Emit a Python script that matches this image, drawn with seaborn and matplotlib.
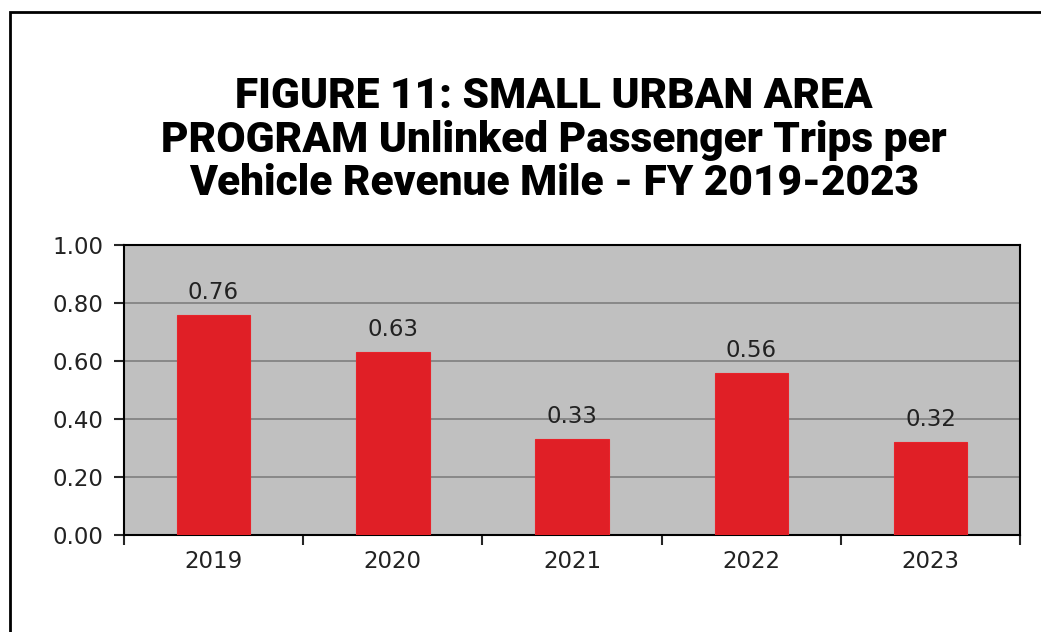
import numpy as np
import pandas as pd
import seaborn as sns
from matplotlib import pyplot as plt
from matplotlib.patches import Rectangle

years = ["2019", "2020", "2021", "2022", "2023"]
trips_per_mile = [0.76, 0.63, 0.33, 0.56, 0.32]
y_ticks = [0.0, 0.2, 0.4, 0.6, 0.8, 1.0]
title = "FIGURE 11: SMALL URBAN AREA\nPROGRAM Unlinked Passenger Trips per\nVehicle Revenue Mile - FY 2019-2023"

df = pd.DataFrame({"year": years, "value": trips_per_mile})

sns.set_style("ticks")
plt.rcParams["font.family"] = ["DejaVu Sans"]

fig = plt.figure(figsize=(10.41, 6.32), dpi=100)
ax = fig.add_axes([0.119, 0.1535, 0.861, 0.4585])
ax.set_facecolor("#c0c0c0")

sns.barplot(data=df, x="year", y="value", color="#e01f26", saturation=1,
            width=0.41, ax=ax, zorder=3, edgecolor="#e8232a", linewidth=0.8)

ax.set_ylim(0, 1.0)
ax.set_xlim(-0.5, len(years) - 0.5)
ax.set_yticks(y_ticks)
ax.set_yticklabels([f"{v:.2f}" for v in y_ticks])
ax.yaxis.grid(True, color="#7f7f7f", linewidth=1.2, zorder=0)
ax.set_axisbelow(True)

# x ticks sit between categories, labels centered under bars
ax.set_xticks(np.arange(-0.5, len(years), 1.0))
ax.set_xticklabels([])
ax.set_xticks(range(len(years)), minor=True)
ax.set_xticklabels(years, minor=True)
ax.tick_params(axis="x", which="minor", length=0, pad=11)
ax.tick_params(axis="x", which="major", length=7, width=1.5, direction="out")
ax.tick_params(axis="y", length=7, width=1.5, direction="out", pad=8)
ax.tick_params(labelsize=16.5, labelcolor="#222222")
ax.tick_params(axis="x", which="minor", labelsize=16.5, labelcolor="#222222")

for side in ["left", "bottom", "top", "right"]:
    ax.spines[side].set_visible(True)
    ax.spines[side].set_color("black")
    ax.spines[side].set_linewidth(1.5)

ax.set_xlabel("")
ax.set_ylabel("")

for c in ax.containers:
    ax.bar_label(c, fmt="%.2f", padding=8, fontsize=16.5, color="#222222")

fig.text(0.532, 0.778, title, ha="center", va="center", fontsize=30.5,
         fontweight="heavy", color="black", family=["Roboto", "DejaVu Sans"],
         linespacing=1.08)

# outer frame, cut off at right and bottom like the source
fig.patches.append(Rectangle((0.0096, -0.1), 1.2, 1.081, transform=fig.transFigure,
                             fill=False, edgecolor="black", linewidth=2))

fig.savefig("out.png", dpi=100)
